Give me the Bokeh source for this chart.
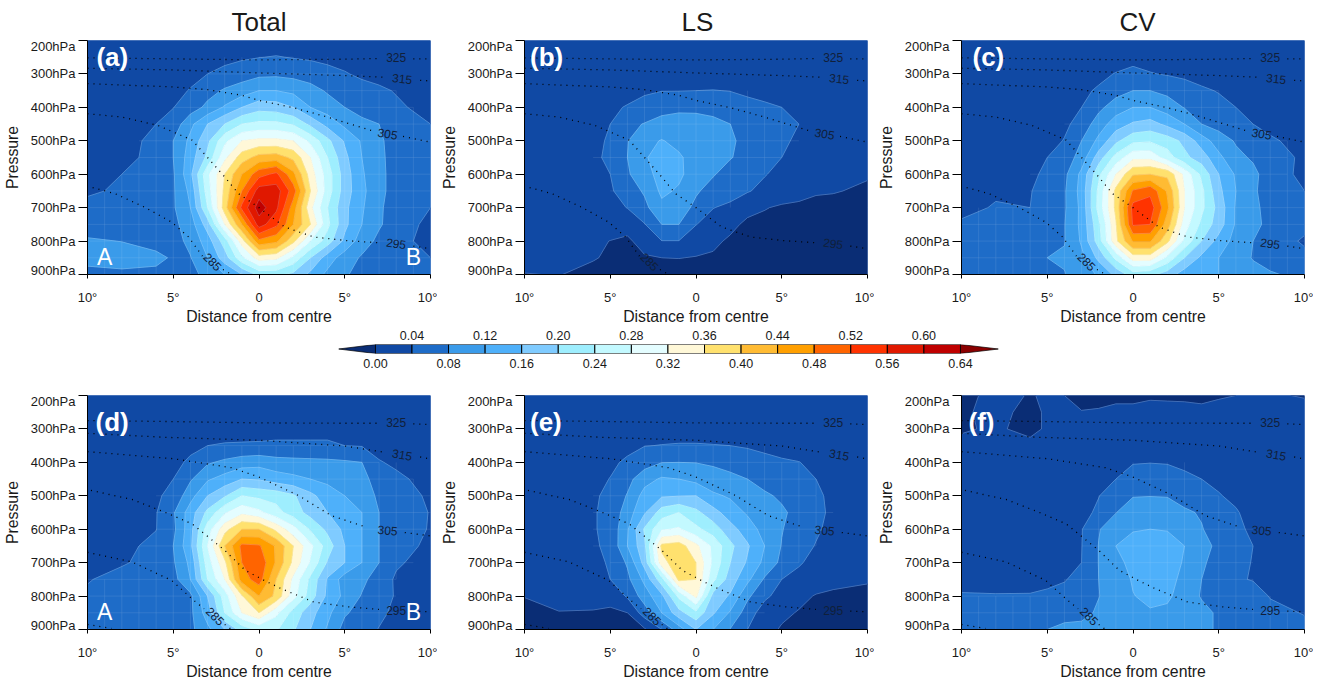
import numpy as np
from bokeh.plotting import figure
from bokeh.plotting.contour import contour_data
from bokeh.layouts import column, row
from bokeh.embed import file_html
from bokeh.resources import INLINE
from bokeh.models import Range1d, FixedTicker, Label, LinearAxis, Title
from bokeh.core.properties import value

FONT = "Liberation Sans"
nan = float("nan")

LEVELS = [0.00, 0.04, 0.08, 0.12, 0.16, 0.20, 0.24, 0.28, 0.32, 0.36, 0.40, 0.44, 0.48, 0.52, 0.56, 0.60, 0.64]
COLOR_UNDER = "#0a2d75"
COLOR_OVER = "#8a0000"
COLORS = ["#1049a4", "#1e6cc8", "#3a9bea", "#4eb0fa", "#7fcbff", "#9eeefe", "#c3f9ff", "#e4fdff",
          "#fff8d8", "#ffe16e", "#ffbb33", "#ff9f00", "#ff6400", "#ff3300", "#e01800", "#bf0000"]

X = [-10, -8, -6, -5, -4, -3, -2, -1, 0, 1, 2, 3, 4, 5, 6, 7, 8, 10]
P = [200, 250, 300, 350, 400, 450, 500, 550, 600, 650, 700, 750, 800, 850, 900]
P_TICKS = [200, 300, 400, 500, 600, 700, 800, 900]
P_LABEL_AT = {218: "200hPa", 300: "300hPa", 400: "400hPa", 500: "500hPa", 600: "600hPa", 700: "700hPa", 800: "800hPa", 888: "900hPa"}
X_TICKS = {-10: "10°", -5: "5°", 0: "0", 5: "5°", 10: "10°"}

# values in hundredths, one list per pressure level
Z_A = [
 [1,1,1,1,1,1,1,1,1,2,1,1,1,1,1,1,1,1],
 [1,1,1,2,2,2.5,3,3.5,3.9,4.2,3.8,3.5,3,3,2.5,2,2,2],
 [1,2,2,2.5,3,4,5,6,7,7.2,6.8,6,5.2,4.2,3.5,3,2.5,2],
 [1,2,3,3,4.2,6.5,8.5,10,12,12,11,9.5,7.5,6,5,4.5,3.8,2.5],
 [2,2.5,3.5,3.9,6,9,12.5,16,18.5,18,16,12,10,8,6.5,5.5,4.5,3],
 [2,3,4,5.5,11,16,20,24,25,25,23.5,19,14.5,11,9,8,5.5,4],
 [2,3,4.7,8,13,19,27,32,33,33,32,27,21,15.5,11.5,8.8,6,4.2],
 [2,3,5,8,14,21,31,38,41.5,42,39,32,24,17,12,9,6.2,4.2],
 [2,4,5,7.5,15,27,36,44,50.5,53,45,34,26,18,12.5,9,6.5,4],
 [3.5,4.5,5.5,7.5,13,26,37,48,58,58,50,36,26,18,13,9,6.5,4.5],
 [5,5,6,7.5,12,24,38,53,62,57,46,33,24,17,12.5,8.5,6.5,4],
 [6,5.5,6.5,7,10,18,32,44,58,53,44,36,25,17,12,8.5,6,3],
 [8.5,7.9,6.5,6.5,9,14,22,34,47,45,37,28,22,15,10,7,5,3],
 [10,10,9,7.5,7.8,12,18,27,34,33,27,20,14,10,7.5,6,4.5,4],
 [6,7,7,7,7,9,12,16,21,21,19,15,11,8.5,6.5,5,4.5,4],
]
Z_B = [
 [1,1,1,1,1,1,1,1,1,1,1,1,1,1,1,1,1,1],
 [1,1,1,1,1,1,1,1,1.5,1.5,1,1,1,1,1,1,1,1],
 [1,1,1,1,1.5,1.5,2,2,2,2,2,1.5,1.5,1.5,1,1,1,1],
 [1.5,1.5,2,2.5,3,3.5,3.9,3.9,4,4.1,3.9,3.4,3,2.5,2,1.5,1.5,1],
 [1.5,2,2.5,3.5,4.2,5.2,6.5,7,7,6.5,6,5,4.5,4,3,2,1.5,1],
 [1.5,2,2.8,4,7,8.2,9.5,10,9.8,9.2,8,6.5,5.5,4.8,4,2.5,1.5,1],
 [1.5,2,3,4.5,7.8,11,12.2,11,10.5,9.5,8.5,7,6,5,3,2,1.5,1],
 [1.5,2,3.2,4.8,8,11.5,14,12.5,10.5,9.5,8.2,6.8,5.5,4,2.5,1.8,1.5,1],
 [1.5,2,3,4,7.5,10.5,13.5,12.8,10,8.3,6.5,5.5,4.2,3,2,1.5,1,0.3],
 [1.5,1.8,2.5,3.5,6,8.5,12.8,11.5,8.5,6.5,5.5,4.3,3,2,1.2,0.3,0.2,-0.5],
 [1.5,1.5,2,2.8,4.1,7,11,10,7,4.1,3.2,1.2,0.2,-0.5,-0.7,-0.8,-1,-1.5],
 [1.5,1.5,1.8,2.5,1.5,3.8,8,8,4.1,2.5,1,-0.8,-1,-1.5,-2,-2,-2,-2],
 [1,1,1,-0.1,-0.7,1.6,3.9,3.9,2,0.8,-0.6,-1,-2,-2,-2.5,-2.5,-2.5,-2.5],
 [1,1,0.2,-0.4,-1.5,-0.4,0,0.1,-0.2,-0.5,-1.5,-2,-2,-2.5,-2.5,-2.5,-2.5,-2.5],
 [-0.1,0.1,-0.8,-1.5,-2,-2,-2,-2,-2,-2.5,-2.5,-2.5,-2.5,-2.5,-2.5,-2.5,-2.5,-2.5],
]
Z_C = [
 [1,1,1,1,1,1,1,1,1,1,1,1,1,1,1,1,1,1],
 [1,1,1,1,1,1,1.5,2,2.8,2.5,2,1.5,1,1,1,1,1,1],
 [1,1,1,1,1.5,2,3,4.2,5,4.2,3.7,3.3,2.7,2,1.5,1,1,1],
 [1,1,1,1.5,2,3.2,4.5,6.5,8,8,7,5.5,4.5,3.8,2.8,2,1.5,1],
 [1,1,1.5,2,3,4,7,10,12,12,10,7.8,6.8,5,4,3,2,1],
 [1,1,2,2.5,3.2,5.5,10,14,16.5,17.5,15,12,8,6.5,5,4,2.8,1.5],
 [1,1.5,2,2.5,4.2,8,13,19,23,23.5,22,19,14,10,7.6,6.5,4.6,2.5],
 [1.5,2,3,4,5.5,9.8,18,25.5,31,31,26,21,18,13,9,7.5,6.5,3],
 [2,2.5,3,5,7,13,23,32,39.5,40,39,31,23,16,11.5,9,6,3],
 [3,3.5,3.8,5.5,7.5,13.5,25,37,48.5,51,43.5,32,25,17,12,8.5,6.5,4],
 [3,4.3,4,6,7.5,13,25.5,37,53.5,54,45,32,25,18.5,11.5,9,6.5,4.5],
 [4.5,5,5.5,6,7.8,13,23,35.5,52.5,52,42,30,23,18,11.5,9,7,5],
 [5,5.5,6,6.5,7.8,12.5,22,35,44.5,44.5,37,27,20,14.5,10.5,8,6,3.5],
 [7,7.5,7.9,8,8.5,11,17,25,34,34,27,20,15,12,9.5,7.8,6.5,5],
 [5.5,5.5,5.5,6.5,7.8,10,12.5,17,22,21,18,14,12.5,12,10,9,8.4,7],
]
Z_D = [
 [1,1,1,1,1,1,1,1,1,1,1,1,1,1,1,1,1,1],
 [1,1,1,1,1,1,1.5,1.5,1.5,2,2,2,1.5,1.5,1,1,1,1],
 [1,1,1.5,2,2,2.5,2.5,2.5,2.5,3,3,3,3,3,2.5,2,1.5,1],
 [1,1.5,2,2.5,3.3,4,4.3,4.4,4.5,4.5,4.5,4.5,4.5,4,3.8,3,2.5,1.5],
 [1.5,2,2.5,3.2,4.5,7.5,8.8,10,10.5,9.5,9.2,9,8.8,8.5,8,4.2,3.5,2],
 [1.5,2,3,4,7.5,11.5,13.5,16,15.6,14,13,12,11,9.5,8.7,7,4.6,3],
 [1.5,2,3.5,5,10.5,16,19.5,24,23,22.5,20.5,17,14,12,9.5,7.5,5.5,3.5],
 [2,2.5,3.8,7.5,14,21,27.5,31,29,25.5,22,18.5,16,13.5,12,8,6.5,3.8],
 [2,2.5,3.9,7,14.5,26,34.5,40,40,35,29.5,23.5,19,15,12,8,6.3,3.7],
 [2.5,3,5,8,15,28,40,49,48.5,43.5,36,29,22,16,12,8,5.5,3.2],
 [3,3.7,5,7.5,13,26,35,48,51,43.5,35,27.5,19.5,16,12,8,4.5,2.5],
 [3.8,5,5.5,6.5,12,24,32,46,50,40,31,23,15.5,10,9,6,3.5,2.5],
 [4.5,5.5,6,6.5,7,16,26,35.5,44,39,29.5,22,15,11,7.7,5.5,3.7,2.5],
 [5,5.5,6,6,7,14,24,32,36,29,22.5,17.5,13,8.5,6.5,4.5,3.5,2.5],
 [3.9,5,5.5,6,7,11,16,21.5,25,24.5,20.5,16,11.5,6.5,5,3.9,3,2.5],
]
Z_E = [
 [1,1,1,1,1,1,1,1,1,1,1,1,1,1,1,1,1,1],
 [1,1,1,1,1,1,1,1,1,1,1,1,1,1,1,1,1,1],
 [1,1,1,1.5,2,2,2.5,2.8,2.8,2.8,2.5,2.5,2,1.5,1.5,1,1,1],
 [1,1.5,2,2.5,3,3.9,4.1,4.2,4.2,4.1,4,3.6,3,2.5,2,1.5,1.5,1],
 [1.5,2,2.5,3.3,4.6,6.2,7.9,8,7.9,7.5,7,6,5.2,4.5,4.1,3,2,1],
 [1.5,2,3,4.1,6.7,10.5,12.5,12,10.8,9.5,8.7,8,6.8,6,5,4,2.5,1.5],
 [1.5,2.5,3.5,4.8,8.3,13.5,15.5,15.8,16,12.7,11.5,9.8,8.5,7.5,6,4.8,3,1.5],
 [1.5,2.5,3.7,5,10,15.5,22,24,21,17.5,14,11.5,9.5,8.5,7,5,3.2,1.5],
 [1.5,2.5,3.7,5,11.5,20.5,27.5,28.5,25,22,17.5,14,10.5,8.2,6,4.5,3,1.5],
 [1.5,2.5,3.5,4.8,12,19,37,38,33,27,21,16.5,12,7.8,5.5,3.8,2.5,1],
 [1.5,2,3,4.4,8.5,17.5,34.5,38.5,36,27,20,15.5,11,7,4.5,2.5,1.5,0.5],
 [1,1.5,3,4,7,13,22.5,37,36,25,18,13,7.5,4,2.5,1.5,0.8,0.3],
 [0.1,0.9,1,1,4.5,10,15,25,33,18.5,15.5,8.8,4.8,2.5,0.8,-0.2,-0.5,-0.8],
 [-1,-0.1,-0.2,-0.5,0,6,12,18.5,23,16.5,11.5,6,2,0.6,-0.2,-1,-1,-1],
 [-1.5,-1.5,-1.5,-1.5,-1,-0.5,4,10,16,12,7.8,4,1,-0.3,-0.8,-1.5,-1.5,-1.5],
]
Z_F = [
 [-0.5,0.5,-0.1,0.2,0,-0.8,-1,-0.5,-0.5,-0.4,-0.5,-0.6,-0.8,-0.3,0,0.3,0.3,-0.2],
 [-0.5,1,-1,0.5,0.8,0.1,0.3,0.5,0.5,1,1,1,0.8,1,1,1,1,1],
 [-0.4,0.5,-1,0.5,1,1,1,1,1,1,1,1,1,1,1,1,1,1],
 [1,1,1,1,1,1,1,1.5,1.5,1.5,1.5,1.5,1.5,1,1,1,1,1],
 [1.5,1.5,1.5,1.5,1.5,2,2.5,3.2,3.8,3.9,3.8,3.5,3,2.5,2,1.5,1.5,1],
 [1.5,1.5,1.5,1.5,2,2.5,3.3,4,5.5,6,5.5,4.5,4,3.3,2.5,2,1.5,1],
 [1.5,1.5,1.5,1.5,2,2.8,3.9,5.7,7.8,7.9,7.8,6,5,4.2,3.3,2.3,2,1.3],
 [1.5,1.5,1.5,1.8,2,3,4.6,7.9,10,10.2,10,8.8,7.5,5.2,4.3,2.8,2.2,1.3],
 [1.5,1.5,1.5,1.8,2.2,3.8,7.8,9.8,11.7,12,11.8,9.8,8.3,5.5,4.6,3.5,2.5,1.5],
 [1.5,1.5,2,2.2,2.5,3.9,8.1,12,13.5,14,13.5,12,9.5,7,5,4,2.7,1.7],
 [1.5,1.8,2,2.5,3,4,8.1,11,13,14,13.5,11.7,8.8,6,4.6,3.9,3,2],
 [2.5,2.8,3,3.2,3.8,5,8,9,12.5,13.8,13,11.2,8,5.5,4.2,3.9,3.2,2.3],
 [4.4,4.2,4.2,4.6,5,6,7.9,9.5,11.8,13.2,12.8,10,7.7,5.8,5,4.8,3.9,3],
 [5,5.5,5.5,5.5,6.5,7,8.5,10,11,11.5,11,9.5,9,7.5,6,5,4.5,3.9],
 [6,7,7.5,8,9,9,9.5,10,10,10,10,9.5,9,7.5,6.5,5.5,5,4.5],
]

# potential-temperature isolines, upper row and lower row
TH_TOP = {
 325: ([-10,-5,0,5,6.9,nan,9,10], [252,255,258,256,254,nan,255,255]),
 315: ([-10,-5,0,5,7.3,nan,9.4,10], [283,288,297,305,310,nan,319,321]),
 305: ([-10,-5,-3,-1,0,2,4,6.6,nan,8.4,10], [329,339,347,364,379,401,429,470,nan,487,504]),
 295: ([-10,-8,-5.9,-3.9,-2,-1.2,0,1.5,3.2,5.2,7,nan,9,10], [419,429,454,498,608,658,700,758,788,799,805,nan,815,823]),
 285: ([-9.7,-8.4,-6.7,-5.1,-4.1,-3.3,nan,-2.1,-1.6], [640,658,698,743,788,845,nan,885,900]),
}
TH_BOT = {
 325: ([-10,-5,0,5,6.9,nan,9,10], [275,278,282,283,283,nan,285,287]),
 315: ([-10,-5.5,0,5,7.2,nan,9.4,10], [313,325,334,351,369,nan,384,390]),
 305: ([-10,-5,-1.6,0,2.3,4.2,6.2,nan,8.5,10], [368,389,416,444,499,559,593,nan,610,620]),
 295: ([-9.8,-7.4,-5.5,-3.9,-2,-0.8,0.3,1.3,3.2,5.2,7,nan,9,10], [484,511,549,584,663,723,753,778,818,832,840,nan,845,847]),
 285: ([-10,-7.4,-5.1,-3.8,-3.2,nan,-2,-1.6], [669,698,753,813,838,nan,885,900]),
 275: ([-10,-8.6], [885,897]),
}
TH_LABELS_TOP = [("325", 8, 252, 0), ("315", 8.35, 314, -6), ("305", 7.5, 479, -10), ("295", 8, 807, -8), ("285", -2.7, 862, -45)]
TH_LABELS_BOT = [("325", 8, 282, 0), ("315", 8.35, 377, -10), ("305", 7.5, 603, -5), ("295", 8, 842, 0), ("285", -2.55, 860, -45)]

PANELS = [
 ("(a)", Z_A, "Total", "AB"), ("(b)", Z_B, "LS", ""), ("(c)", Z_C, "CV", ""),
 ("(d)", Z_D, "", "AB"), ("(e)", Z_E, "", ""), ("(f)", Z_F, "", ""),
]
TAG_DX = [0.52, 0.32, 0.64, 0.47, 0.32, 0.41]
TITLE_LEFT = [144, 157, 158, 0, 0, 0]
BORDER_L = [87, 86, 85]
BORDER_R = [7, 7, 9]
TEXT = "#1a1a1a"
MESH_X = list(range(-10, 11))
MESH_P = list(range(200, 901, 50))


def value_at(z, x, pr):
    i = P.index(pr) if pr in P else None
    if i is not None:
        return float(np.interp(x, X, z[i]))
    lo = P.index(pr - 25)
    return 0.5 * (float(np.interp(x, X, z[lo])) + float(np.interp(x, X, z[lo + 1])))


def mesh(z):
    xs, ys = [], []
    for a in MESH_X:
        for b in MESH_P[:-1]:
            if 4 <= value_at(z, a, b + 25) < 26:
                xs.append([a, a]); ys.append([b, b + 50])
    for b in MESH_P:
        for a in MESH_X[:-1]:
            if 4 <= value_at(z, a + 0.5, b) < 26:
                xs.append([a, a + 1]); ys.append([b, b])
    return xs, ys


def panel(i):
    tag, z, title, ends = PANELS[i]
    top_row = i < 3
    col = i % 3
    p = figure(frame_width=343, frame_height=234, x_range=Range1d(-10, 10), y_range=Range1d(900, 200),
               output_backend="svg", toolbar_location=None,
               min_border_left=BORDER_L[col], min_border_right=BORDER_R[col],
               min_border_top=39 if top_row else 11, min_border_bottom=49 if top_row else 46,
               background_fill_color=COLORS[0], outline_line_color=None)
    p.grid.visible = False
    edges = [-50.0] + LEVELS + [50.0]
    fills = [COLOR_UNDER] + COLORS + [COLOR_OVER]
    zz = np.array(z, dtype=float) / 100
    cd = contour_data(X, P, zz, levels=edges, want_fill=True, want_line=True)
    fd, ld = cd.fill_data, cd.line_data
    keep = [k for k in range(len(fd.xs)) if len(fd.xs[k]) > 0]
    p.multi_polygons([fd.xs[k] for k in keep], [fd.ys[k] for k in keep],
                     fill_color=[fills[k] for k in keep], line_color=[fills[k] for k in keep], line_width=0.8)
    mx, my = mesh(z)
    p.multi_line(mx, my, line_color="#ffffff", line_alpha=0.12, line_width=0.8)
    p.multi_line(ld.xs, ld.ys, line_color="#ffffff", line_alpha=0.3, line_width=0.7)
    th = TH_TOP if top_row else TH_BOT
    for xs, ps in th.values():
        p.line(xs, ps, line_color="black", line_width=1.3, line_dash="1 5")
    for txt, lx, lp, ang in (TH_LABELS_TOP if top_row else TH_LABELS_BOT):
        p.text([lx], [lp], text=[txt], angle=[ang * 3.14159 / 180], text_align="center", text_baseline="middle",
               text_font=value(FONT), text_font_size="12px", text_color="#10203a")
    ax, ay = p.xaxis[0], p.yaxis[0]
    ax.ticker = FixedTicker(ticks=list(X_TICKS))
    ax.major_label_overrides = X_TICKS
    ax.axis_label = "Distance from centre"
    ax.major_tick_line_color = "black"
    ay.ticker = FixedTicker(ticks=list(P_LABEL_AT), minor_ticks=P_TICKS)
    ay.major_label_overrides = P_LABEL_AT
    ay.axis_label = "Pressure"
    ay.major_tick_line_color = None
    ay.minor_tick_line_color = "black"
    ay.minor_tick_in = 0
    ay.minor_tick_out = 9
    ax.minor_tick_line_color = None
    for a in (ax, ay):
        a.axis_line_color = "black"
        a.major_tick_in = 0
        a.major_label_text_font = FONT
        a.major_label_text_font_size = "13px"
        a.major_label_text_color = TEXT
        a.axis_label_text_font = FONT
        a.axis_label_text_font_size = "15.8px"
        a.axis_label_text_font_style = "normal"
        a.axis_label_text_color = TEXT
    ax.major_tick_out = 4
    ax.major_label_standoff = 11
    ax.axis_label_standoff = 0
    ay.major_tick_out = 9
    ay.major_label_standoff = 3
    ay.axis_label_standoff = 7
    if title:
        p.title = Title(text=title, align="left", offset=TITLE_LEFT[i], text_font=FONT, text_font_size="26px",
                        text_font_style="normal", text_color=TEXT, standoff=8)
    p.add_layout(Label(x=-10 + TAG_DX[i], y=250 if top_row else 280, text=tag, text_baseline="middle", text_color="white",
                       text_font=FONT, text_font_size="26px", text_font_style="bold"))
    if ends:
        yl = 847
        p.add_layout(Label(x=-9, y=yl, text="A", text_align="center", text_baseline="middle", text_color="white",
                           text_font=FONT, text_font_size="23px"))
        p.add_layout(Label(x=9, y=yl, text="B", text_align="center", text_baseline="middle", text_color="white",
                           text_font=FONT, text_font_size="23px"))
    return p


def colorbar():
    w = LEVELS[1] - LEVELS[0]
    lo, hi = LEVELS[0] - w * 1.01, LEVELS[-1] + w * 1.04
    p = figure(frame_width=660, frame_height=9, x_range=Range1d(lo, hi), y_range=Range1d(0, 1),
               output_backend="svg", toolbar_location=None, outline_line_color=None,
               min_border_left=338, min_border_right=312, min_border_top=0, min_border_bottom=31)
    p.grid.visible = False
    p.quad(left=LEVELS[:-1], right=LEVELS[1:], bottom=0, top=1, fill_color=COLORS, line_color="black", line_width=1)
    p.patch([LEVELS[0], lo, LEVELS[0]], [0, 0.5, 1], fill_color=COLOR_UNDER, line_color="black", line_width=0.7)
    p.patch([LEVELS[-1], hi, LEVELS[-1]], [0, 0.5, 1], fill_color=COLOR_OVER, line_color="black", line_width=0.7)
    even, odd = LEVELS[0::2], LEVELS[1::2]
    bottom = p.below[0]
    bottom.ticker = FixedTicker(ticks=even)
    bottom.major_label_overrides = {v: f"{v:.2f}" for v in even}
    top = LinearAxis(ticker=FixedTicker(ticks=odd), major_label_overrides={v: f"{v:.2f}" for v in odd})
    p.add_layout(top, "above")
    p.yaxis.visible = False
    for a in (bottom, top):
        a.axis_line_color = None
        a.major_tick_line_color = None
        a.minor_tick_line_color = None
        a.major_tick_in = 0
        a.major_tick_out = 0
        a.major_label_standoff = 5
        a.major_label_text_font = FONT
        a.major_label_text_font_size = "12.5px"
        a.major_label_text_color = TEXT
    return p


figs = [panel(i) for i in range(6)]
page = column(row(*figs[:3]), colorbar(), row(*figs[3:]))
open("out.html", "w").write(file_html(page, INLINE))
